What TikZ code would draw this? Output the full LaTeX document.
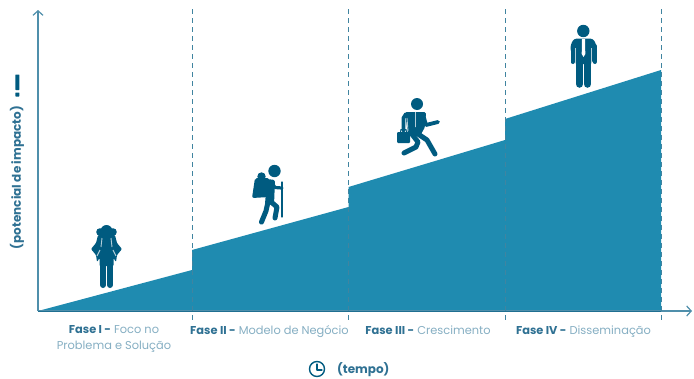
\documentclass[tikz,border=0pt]{standalone}
\usepackage{fontspec}
\setmainfont{Poppins}
\usetikzlibrary{arrows.meta}
\definecolor{areablue}{HTML}{1F8BB0}
\definecolor{figblue}{HTML}{005B80}
\definecolor{axisblue}{HTML}{4F8FAB}
\definecolor{labelbold}{HTML}{2F7193}
\definecolor{labellight}{HTML}{86AFC3}
\tikzset{
  axisline/.style={draw=axisblue,line width=1.3pt,-{Straight Barb[length=4.5pt,width=10pt,line width=1.2pt]}},
  phaseline/.style={draw=figblue!75!white,line width=1pt,dash pattern=on 4.5pt off 4.5pt},
  figfill/.style={fill=figblue,draw=none},
  limb/.style={draw=figblue,line cap=round,line join=round},
  gapline/.style={draw=white,opacity=.7,line width=.9pt},
  phaselabel/.style={font=\fontsize{11.4}{16}\selectfont,text=labellight,align=center,inner sep=0pt},
  axislabel/.style={font=\fontsize{12}{12}\selectfont\bfseries,text=labelbold,inner sep=0pt}
}
\newcommand{\fase}[1]{\textbf{\textcolor{labelbold}{#1}}}
\begin{document}
\begin{tikzpicture}[x=1pt,y=-1pt]
\useasboundingbox (0,0) rectangle (694,378);
\fill[white] (0,0) rectangle (694,378);
% area
\fill[areablue] (38,311) -- (192,270) -- (192,250) -- (348.5,207) -- (348.5,187) -- (505,140) -- (505,119) -- (661,70) -- (661,311) -- cycle;
% axes
\coordinate (origin) at (38,311);
\coordinate (ytop) at (38,10);
\coordinate (xend) at (692,311);
\draw[axisline] (origin) -- (ytop);
\draw[axisline] (origin) -- (xend);
\draw[draw=figblue,line width=1pt,opacity=.6] (origin) -- (661,311);
% phase boundaries
\foreach \n/\x in {a/192,b/348.5,c/505,d/661}{
  \coordinate (top\n) at (\x,9);
  \coordinate (bot\n) at (\x,320);
  \draw[phaseline] (top\n) -- (bot\n);
}
% labels
\node[phaselabel,anchor=north] (f1) at (114,325.5) {\fase{Fase I -} Foco no\\Problema e Solução};
\node[phaselabel,anchor=north] (f2) at (269.5,325.5) {\fase{Fase II -} Modelo de Negócio};
\node[phaselabel,anchor=north] (f3) at (428,325.5) {\fase{Fase III -} Crescimento};
\node[phaselabel,anchor=north] (f4) at (583.5,325.5) {\fase{Fase IV -} Disseminação};
\node[axislabel,anchor=west] (tempo) at (337,369.5) {(tempo)};
\node[axislabel,rotate=90,anchor=center] (impacto) at (17,177.5) {(potencial de impacto)};
% exclamation icon
\fill[figblue,rounded corners=.5pt] (15.3,74.5) rectangle (19.3,90);
\fill[figblue,rounded corners=.5pt] (15.3,92.5) rectangle (19.3,96.5);
% clock icon
\draw[figblue,line width=1.4pt] (317,369) circle (7.5);
\draw[limb,line width=1.3pt] (317,364) -- (317,370) -- (322,370);
% figure 1: backpacker seen from behind
\fill[figfill] (106.5,231) circle (6);
\fill[figfill] (100,232) circle (3.8);
\fill[figfill] (113,232) circle (3.8);
\fill[figfill,rounded corners=1pt] (98,235) -- (115,235) -- (117,243) -- (122,249) -- (117,255) -- (116,262) -- (113.5,258) -- (113.5,266) -- (99.5,266) -- (99.5,258) -- (97,262) -- (96,255) -- (91,249) -- (96,243) -- cycle;
\draw[limb,line width=6pt] (103,264) -- (103,285);
\draw[limb,line width=6pt] (110,264) -- (110,285);
\draw[gapline] (102,238) -- (101,247) (111,238) -- (112,247) (97,256) -- (100,250) (116,256) -- (113,250);
% figure 2: hiker
\fill[figfill] (274.5,171) circle (6.2);
\fill[figfill] (261.5,176.5) circle (4.2);
\fill[figfill,rounded corners=2pt] (255,178) -- (269,178) -- (269,197) -- (252,198) -- cycle;
\fill[figfill,rounded corners=1.5pt] (267,179) -- (275,180) -- (274,205) -- (265,204) -- cycle;
\draw[limb,line width=3.2pt] (272,183) -- (275,187.5) -- (282,188);
\draw[limb,line width=5pt] (270,201) -- (277,207) -- (275,218);
\draw[limb,line width=5pt] (268,202) -- (266,211) -- (261.5,222);
\draw[limb,line width=1.3pt] (282,182) -- (282,217);
% figure 3: runner
\fill[figfill] (417,104) circle (6);
\fill[figfill,rounded corners=1.5pt] (405,112) -- (426,112) -- (425,127) -- (420,136) -- (408,135) -- cycle;
\draw[gapline] (415.5,112) -- (415.5,127) (407,118) -- (408,131);
\draw[limb,line width=3.8pt] (406,114) -- (403.5,118) -- (403.5,131);
\draw[limb,line width=3.8pt] (423,114) -- (426,125) -- (438,122);
\fill[figfill,rounded corners=1pt] (397,132) rectangle (410,143);
\draw[figblue,line width=1pt] (400.5,132) -- (401,129.5) -- (406,129.5) -- (406.5,132);
\draw[limb,line width=5pt] (415,132) -- (427,140) -- (435,154);
\draw[limb,line width=5pt] (411,133) -- (418,142) -- (416,147) -- (404,153);
% figure 4: standing man
\fill[figfill] (583.3,31) circle (6.2);
\fill[figfill,rounded corners=3pt] (574,38.5) -- (593,38.5) -- (596.5,45) -- (596.5,50) -- (592,64) -- (575,64) -- (570.5,50) -- (570.5,45) -- cycle;
\draw[limb,line width=4pt] (572.5,46) -- (572.5,62);
\draw[limb,line width=4pt] (594.5,46) -- (594.5,62);
\draw[limb,line width=7.5pt] (579.5,60) -- (579.5,84);
\draw[limb,line width=7.5pt] (587.5,60) -- (587.5,84);
\draw[gapline] (575.2,48) -- (575.2,63) (591.8,48) -- (591.8,63);
\fill[white] (582,39) -- (585,39) -- (585.3,54) -- (583.5,57) -- (581.7,54) -- cycle;
\end{tikzpicture}
\end{document}
